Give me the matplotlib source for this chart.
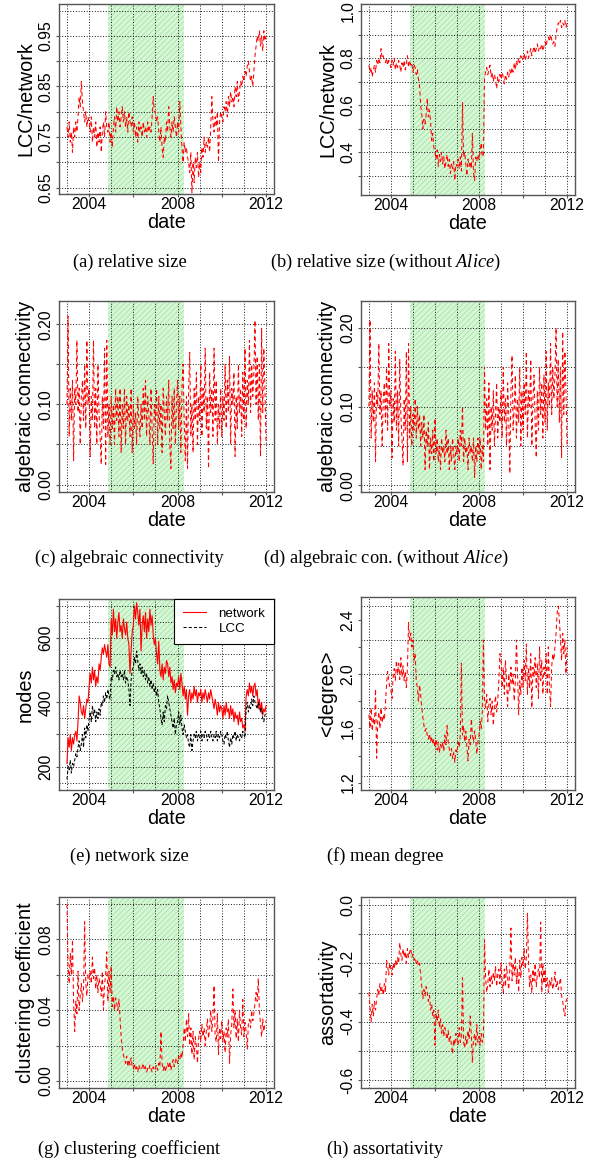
import matplotlib
matplotlib.use('Agg')
import matplotlib.pyplot as plt
import matplotlib.transforms as mtransforms
import numpy as np

plt.rcParams['font.family'] = ['Liberation Sans', 'DejaVu Sans']
plt.rcParams['mathtext.fontset'] = 'custom'
plt.rcParams['mathtext.rm'] = 'Liberation Serif'
plt.rcParams['mathtext.it'] = 'Liberation Serif:italic'
plt.rcParams['hatch.linewidth'] = 0.6

# ---------------- data (20 samples per year, 2003.0 .. 2012.0) ----------------
START, END = 2003.0, 2012.0
PERIOD = (2004.87, 2008.27)

lcc_rel = [
 0.77,0.75,0.78,0.74,0.76,0.72,0.77,0.75,0.78,0.76,0.79,0.83,0.81,0.86,0.82,0.80,0.78,0.80,0.77,0.79,
 0.78,0.76,0.79,0.74,0.77,0.75,0.78,0.73,0.76,0.74,0.77,0.72,0.76,0.78,0.75,0.80,0.77,0.76,0.78,0.74,
 0.76,0.73,0.77,0.79,0.76,0.81,0.78,0.80,0.77,0.79,0.81,0.78,0.80,0.77,0.79,0.76,0.80,0.78,0.77,0.79,
 0.76,0.78,0.75,0.77,0.74,0.78,0.76,0.77,0.75,0.78,0.76,0.77,0.75,0.78,0.76,0.77,0.76,0.79,0.83,0.80,
 0.80,0.78,0.79,0.76,0.74,0.77,0.73,0.71,0.75,0.74,0.78,0.76,0.81,0.77,0.75,0.78,0.76,0.79,0.77,0.75,
 0.78,0.76,0.82,0.77,0.73,0.70,0.74,0.72,0.73,0.71,0.70,0.68,0.72,0.64,0.70,0.66,0.71,0.69,0.72,0.67,
 0.70,0.68,0.73,0.71,0.75,0.72,0.74,0.73,0.75,0.72,0.77,0.83,0.78,0.76,0.79,0.77,0.80,0.70,0.78,0.80,
 0.79,0.78,0.81,0.80,0.82,0.79,0.83,0.81,0.84,0.82,0.83,0.81,0.85,0.83,0.86,0.82,0.84,0.86,0.85,0.87,
 0.86,0.88,0.87,0.89,0.90,0.88,0.86,0.87,0.85,0.88,0.91,0.93,0.95,0.94,0.96,0.93,0.95,0.92,0.96,0.94,
 0.95]

lcc_rel_na = [
 0.77,0.74,0.76,0.72,0.75,0.77,0.74,0.79,0.77,0.80,0.78,0.84,0.80,0.81,0.79,0.78,0.80,0.77,0.79,0.78,
 0.76,0.79,0.77,0.80,0.75,0.78,0.76,0.79,0.77,0.74,0.78,0.76,0.79,0.75,0.78,0.81,0.76,0.79,0.77,0.78,
 0.74,0.77,0.76,0.73,0.75,0.71,0.68,0.60,0.56,0.50,0.54,0.52,0.56,0.63,0.55,0.58,0.53,0.45,0.48,0.42,
 0.40,0.37,0.41,0.34,0.39,0.36,0.40,0.35,0.38,0.33,0.36,0.39,0.34,0.37,0.31,0.35,0.33,0.36,0.28,0.35,
 0.34,0.37,0.33,0.38,0.32,0.61,0.38,0.40,0.35,0.30,0.37,0.34,0.36,0.33,0.48,0.31,0.28,0.38,0.36,0.39,
 0.37,0.40,0.44,0.38,0.39,0.72,0.74,0.76,0.73,0.75,0.77,0.72,0.74,0.70,0.73,0.71,0.67,0.72,0.70,0.73,
 0.71,0.74,0.72,0.69,0.73,0.71,0.74,0.72,0.75,0.73,0.76,0.74,0.78,0.75,0.79,0.77,0.80,0.78,0.81,0.79,
 0.80,0.82,0.79,0.81,0.83,0.80,0.82,0.84,0.81,0.83,0.85,0.82,0.84,0.86,0.83,0.85,0.84,0.86,0.83,0.85,
 0.87,0.85,0.88,0.89,0.87,0.90,0.88,0.86,0.87,0.85,0.90,0.93,0.95,0.94,0.96,0.93,0.95,0.94,0.96,0.93,
 0.95]

alg_conn = [
 0.10,0.21,0.06,0.12,0.08,0.13,0.03,0.12,0.10,0.18,0.09,0.12,0.05,0.11,0.13,0.08,0.15,0.07,0.18,0.10,
 0.12,0.035,0.11,0.08,0.18,0.07,0.12,0.05,0.15,0.09,0.06,0.025,0.11,0.07,0.17,0.025,0.18,0.06,0.10,0.05,
 0.11,0.07,0.10,0.05,0.12,0.08,0.11,0.06,0.12,0.04,0.10,0.07,0.12,0.05,0.11,0.08,0.10,0.06,0.12,0.04,
 0.10,0.07,0.09,0.05,0.11,0.08,0.06,0.10,0.07,0.12,0.08,0.13,0.06,0.11,0.09,0.05,0.12,0.07,0.026,0.10,
 0.08,0.12,0.05,0.11,0.07,0.10,0.04,0.12,0.09,0.06,0.11,0.08,0.13,0.05,0.02,0.11,0.07,0.12,0.05,0.10,
 0.13,0.07,0.11,0.04,0.12,0.15,0.08,0.03,0.11,0.02,0.12,0.165,0.06,0.10,0.04,0.12,0.08,0.14,0.05,0.11,
 0.08,0.15,0.06,0.12,0.09,0.17,0.07,0.11,0.02,0.14,0.09,0.12,0.06,0.17,0.08,0.13,0.05,0.10,0.07,0.12,
 0.06,0.11,0.08,0.15,0.07,0.13,0.09,0.16,0.05,0.12,0.10,0.14,0.035,0.11,0.07,0.15,0.09,0.12,0.06,0.14,
 0.08,0.17,0.07,0.13,0.10,0.18,0.09,0.15,0.11,0.14,0.205,0.10,0.16,0.08,0.15,0.035,0.195,0.09,0.17,0.12,
 0.05]

alg_conn_na = [
 0.10,0.21,0.06,0.12,0.08,0.13,0.03,0.12,0.10,0.18,0.09,0.12,0.05,0.11,0.13,0.08,0.15,0.07,0.18,0.10,
 0.12,0.035,0.11,0.08,0.17,0.07,0.12,0.05,0.16,0.09,0.06,0.025,0.11,0.07,0.17,0.03,0.18,0.06,0.10,0.05,
 0.09,0.07,0.11,0.06,0.10,0.07,0.09,0.05,0.08,0.06,0.09,0.02,0.07,0.05,0.08,0.02,0.06,0.04,0.07,0.03,
 0.085,0.04,0.06,0.03,0.05,0.02,0.06,0.04,0.05,0.03,0.07,0.04,0.06,0.02,0.05,0.03,0.06,0.04,0.02,0.05,
 0.04,0.06,0.03,0.07,0.05,0.10,0.03,0.06,0.04,0.05,0.02,0.06,0.04,0.05,0.03,0.06,0.01,0.05,0.03,0.06,
 0.04,0.06,0.02,0.05,0.03,0.15,0.07,0.11,0.05,0.13,0.02,0.10,0.07,0.12,0.05,0.09,0.13,0.06,0.10,0.08,
 0.12,0.06,0.15,0.08,0.11,0.05,0.13,0.09,0.015,0.12,0.165,0.07,0.10,0.14,0.06,0.11,0.08,0.15,0.05,0.12,
 0.07,0.13,0.09,0.17,0.06,0.12,0.10,0.16,0.05,0.11,0.14,0.08,0.035,0.12,0.07,0.15,0.09,0.13,0.06,0.14,
 0.08,0.17,0.07,0.13,0.10,0.18,0.09,0.15,0.11,0.14,0.20,0.10,0.16,0.08,0.15,0.035,0.195,0.09,0.17,0.12,
 0.05]

nodes_network = [
 210,290,260,300,250,290,270,300,310,280,340,420,400,370,360,390,350,380,410,400,
 450,490,460,510,470,500,450,480,460,520,500,540,570,550,580,560,540,580,520,510,
 660,610,690,620,660,600,650,680,620,640,600,660,630,610,650,600,580,490,560,620,
 640,700,660,710,680,640,690,560,640,670,620,680,600,660,620,690,640,670,610,580,
 600,550,520,590,500,480,520,470,510,490,530,520,480,510,460,480,440,470,430,460,
 450,480,440,490,460,420,450,410,440,360,420,440,400,430,410,450,420,440,400,430,
 420,440,400,430,410,440,420,400,430,410,440,420,400,380,410,390,360,400,370,390,
 380,350,390,360,400,370,380,350,390,360,380,340,370,350,360,330,370,340,350,320,
 330,310,420,440,420,460,430,450,420,450,460,420,440,380,410,370,400,360,380,370,
 390]

nodes_lcc = [
 160,200,190,220,180,210,200,220,240,230,260,280,250,270,300,260,320,290,330,310,
 350,370,340,390,360,380,340,370,350,380,360,400,390,420,400,430,410,440,420,410,
 480,470,500,490,510,480,490,470,500,480,490,470,500,460,480,470,440,390,470,500,
 510,540,520,560,530,500,520,490,510,480,500,470,490,460,480,450,470,440,460,430,
 450,420,440,400,380,350,330,370,340,390,380,420,400,380,360,340,320,350,300,330,
 340,370,330,360,320,300,330,310,290,300,270,260,300,250,280,300,290,310,280,300,
 290,310,280,300,290,310,300,280,300,290,310,290,280,300,290,310,280,300,290,310,
 300,280,270,300,290,310,280,260,290,270,300,290,310,280,300,290,280,300,290,310,
 300,290,380,400,370,390,380,410,390,420,400,390,380,400,390,370,380,350,340,360,
 370]

mean_degree = [
 1.70,1.60,1.75,1.58,1.68,1.62,1.89,1.38,1.65,1.72,1.60,1.75,1.64,1.70,1.66,1.78,1.92,2.02,1.95,1.90,
 1.88,1.82,1.98,2.04,1.95,2.10,2.00,2.08,1.96,2.12,1.98,2.06,1.95,2.02,1.90,2.05,2.38,2.25,2.30,2.20,
 2.25,2.10,2.15,1.95,1.90,1.80,1.92,1.85,1.75,1.68,1.62,1.58,1.60,1.55,1.52,1.56,1.50,1.54,1.48,1.52,
 1.46,1.52,1.44,1.50,1.42,1.48,1.45,1.50,1.43,1.55,1.48,1.62,1.50,1.45,1.40,1.45,1.38,1.42,1.35,1.44,
 1.42,1.50,1.46,1.55,2.08,1.55,1.62,1.50,1.58,1.46,1.36,1.52,1.48,1.67,1.55,1.50,1.58,1.52,1.41,1.50,
 1.55,1.65,1.60,1.72,2.25,1.80,1.75,1.85,1.65,1.78,1.82,1.70,1.80,1.62,1.76,1.84,1.72,1.80,1.95,2.15,
 2.10,1.90,2.05,1.85,2.10,1.95,1.76,2.00,1.88,2.05,1.92,2.00,1.80,1.95,2.25,2.00,1.70,1.95,1.85,2.05,
 1.90,2.10,1.95,2.22,1.85,2.05,1.90,2.15,1.75,2.05,1.98,2.12,1.90,2.08,1.82,2.20,1.95,2.10,1.85,2.05,
 2.00,2.15,1.85,2.20,1.90,1.76,2.05,2.15,2.10,2.20,2.30,2.45,2.50,2.40,2.25,2.10,2.30,2.15,2.25,2.00,
 2.20]

clustering = [
 0.100,0.065,0.055,0.072,0.060,0.080,0.045,0.028,0.045,0.038,0.062,0.040,0.048,0.055,0.045,0.052,0.090,0.055,0.048,0.060,
 0.058,0.062,0.055,0.070,0.058,0.064,0.052,0.060,0.050,0.058,0.055,0.048,0.062,0.040,0.055,0.060,0.073,0.045,0.062,0.050,
 0.065,0.042,0.048,0.040,0.047,0.044,0.040,0.046,0.035,0.025,0.018,0.015,0.012,0.010,0.014,0.008,0.012,0.009,0.013,0.008,
 0.007,0.010,0.006,0.008,0.005,0.009,0.007,0.006,0.008,0.010,0.006,0.008,0.005,0.007,0.006,0.009,0.007,0.005,0.008,0.006,
 0.007,0.009,0.006,0.010,0.008,0.028,0.010,0.006,0.009,0.005,0.008,0.010,0.007,0.011,0.006,0.009,0.012,0.008,0.011,0.013,
 0.010,0.014,0.012,0.016,0.013,0.020,0.030,0.022,0.035,0.025,0.038,0.020,0.030,0.015,0.028,0.012,0.025,0.020,0.010,0.024,
 0.028,0.022,0.032,0.025,0.030,0.020,0.028,0.035,0.024,0.030,0.040,0.028,0.036,0.054,0.025,0.022,0.038,0.015,0.030,0.024,
 0.034,0.022,0.028,0.016,0.030,0.025,0.035,0.010,0.026,0.032,0.052,0.030,0.040,0.024,0.035,0.022,0.040,0.030,0.026,0.046,
 0.025,0.033,0.028,0.018,0.032,0.035,0.030,0.040,0.034,0.038,0.044,0.050,0.045,0.058,0.040,0.032,0.025,0.035,0.028,0.032,
 0.034]

assortativity = [
 -0.30,-0.35,-0.40,-0.34,-0.38,-0.33,-0.36,-0.32,-0.29,-0.31,-0.27,-0.30,-0.28,-0.31,-0.27,-0.30,-0.19,-0.21,-0.24,-0.20,
 -0.22,-0.24,-0.20,-0.22,-0.19,-0.21,-0.18,-0.20,-0.13,-0.17,-0.19,-0.15,-0.18,-0.16,-0.20,-0.15,-0.18,-0.16,-0.15,-0.18,
 -0.17,-0.19,-0.18,-0.20,-0.19,-0.21,-0.20,-0.24,-0.28,-0.32,-0.29,-0.31,-0.28,-0.30,-0.33,-0.31,-0.36,-0.34,-0.38,-0.36,
 -0.48,-0.37,-0.40,-0.36,-0.42,-0.39,-0.44,-0.41,-0.45,-0.42,-0.44,-0.46,-0.43,-0.47,-0.45,-0.48,-0.51,-0.46,-0.48,-0.44,
 -0.46,-0.48,-0.42,-0.47,-0.45,-0.25,-0.47,-0.49,-0.45,-0.48,-0.43,-0.46,-0.38,-0.44,-0.54,-0.46,-0.44,-0.48,-0.41,-0.47,
 -0.45,-0.48,-0.44,-0.47,-0.46,-0.12,-0.25,-0.30,-0.27,-0.22,-0.28,-0.24,-0.27,-0.23,-0.26,-0.21,-0.28,-0.24,-0.22,-0.27,
 -0.20,-0.26,-0.30,-0.22,-0.28,-0.21,-0.25,-0.29,-0.22,-0.08,-0.26,-0.20,-0.24,-0.18,-0.27,-0.22,-0.30,-0.19,-0.25,-0.18,
 -0.21,-0.15,-0.22,-0.18,-0.03,-0.20,-0.28,-0.24,-0.30,-0.22,-0.26,-0.20,-0.28,-0.24,-0.22,-0.25,-0.06,-0.30,-0.20,-0.27,
 -0.22,-0.28,-0.25,-0.30,-0.26,-0.28,-0.25,-0.29,-0.27,-0.23,-0.28,-0.26,-0.29,-0.27,-0.25,-0.31,-0.33,-0.36,-0.38,-0.33,
 -0.32]

# ---------------- layout ----------------
W, H = 616, 1167
fig = plt.figure(figsize=(W / 100, H / 100), dpi=100)

RED = '#ff0000'
GRID_KW = dict(color='#1a1a1a', lw=0.7, ls=(0, (1, 1.8)), zorder=1)
XGRID = list(range(2003, 2013))


def axbox(l, t, r, b):
    return fig.add_axes([l / W, 1 - b / H, (r - l) / W, (b - t) / H])


def panel(box, ylim, ymajor, ylabels, yminor, ygrid, ylabel, lines, legend=False):
    ax = axbox(*box)
    ax.set_xlim(2002.64, 2012.36)
    ax.set_ylim(*ylim)
    ax.axvspan(PERIOD[0], PERIOD[1], facecolor='#d6f6d6', edgecolor='#a3e6a3',
               hatch='//////', linewidth=0, zorder=0)
    for x in XGRID:
        ax.axvline(x, **GRID_KW)
    for y in ygrid:
        ax.axhline(y, **GRID_KW)
    for vals, color, ls, lw, lab in lines:
        dates = np.linspace(START, END, len(vals))
        ax.plot(dates, vals, color=color, ls=ls, lw=lw, label=lab, zorder=3)
    ax.set_xticks([2004, 2006, 2008, 2010, 2012])
    ax.set_xticklabels(['2004', '', '2008', '', '2012'])
    ax.set_yticks(list(ymajor) + list(yminor))
    ax.set_yticklabels(list(ylabels) + [''] * len(yminor))
    ax.tick_params(axis='x', length=2.5, width=0.8, pad=-0.5, labelsize=11.3,
                   color='#555555')
    ax.tick_params(axis='y', length=2.5, width=0.8, pad=1.6, labelsize=11.3,
                   labelrotation=90, color='#555555')
    for lab in ax.get_yticklabels():
        lab.set_va('center')
    for s in ax.spines.values():
        s.set_color('#555555')
        s.set_linewidth(1.0)
    trx = mtransforms.blended_transform_factory(ax.transAxes, fig.transFigure)
    bb = ax.get_position()
    # x axis title "date"
    ax.text(0.5, bb.y0 - 34 / H, 'date', transform=trx, ha='center',
            va='baseline', fontsize=14.3)
    # y axis title
    try_ = mtransforms.blended_transform_factory(fig.transFigure, ax.transAxes)
    ax.text(bb.x0 - 28 / W, 0.5, ylabel, transform=try_, rotation=90,
            rotation_mode='anchor', ha='center', va='baseline', fontsize=14.3)
    if legend:
        leg = ax.legend(loc='upper right', bbox_to_anchor=(1.0, 1.0),
                        borderaxespad=0, fancybox=False, edgecolor='black',
                        fontsize=9.6, handlelength=1.7, borderpad=0.65,
                        labelspacing=0.2, handletextpad=0.95, framealpha=1)
        leg.get_frame().set_linewidth(0.8)
        leg.set_zorder(5)
    return ax


def dash(v):
    return (v, RED, (0, (4, 3)), 0.75, None)


def arange(a, b, s):
    n = int(round((b - a) / s))
    return [round(a + i * s, 6) for i in range(n + 1)]


panel((59, 4, 274, 194), (0.6375, 1.013), [0.65, 0.75, 0.85, 0.95],
      ['0.65', '0.75', '0.85', '0.95'], [0.70, 0.80, 0.90],
      arange(0.65, 1.0, 0.05), 'LCC/network', [dash(lcc_rel)])
panel((361, 4, 575, 195), (0.218, 1.03), [0.4, 0.6, 0.8, 1.0],
      ['0.4', '0.6', '0.8', '1.0'], [0.3, 0.5, 0.7, 0.9],
      arange(0.3, 1.0, 0.1), 'LCC/network', [dash(lcc_rel_na)])
panel((59, 301, 274, 492), (-0.0093, 0.229), [0.0, 0.1, 0.2],
      ['0.00', '0.10', '0.20'], [0.05, 0.15],
      arange(0.0, 0.2, 0.05), 'algebraic connectivity', [dash(alg_conn)])
panel((361, 301, 575, 492), (-0.0085, 0.234), [0.0, 0.1, 0.2],
      ['0.00', '0.10', '0.20'], [0.05, 0.15],
      arange(0.0, 0.2, 0.05), 'algebraic connectivity', [dash(alg_conn_na)])
panel((59, 599, 274, 790), (127, 722), [200, 400, 600],
      ['200', '400', '600'], [300, 500, 700],
      arange(150, 700, 50), 'nodes',
      [(nodes_network, RED, '-', 0.8, 'network'),
       (nodes_lcc, 'black', (0, (3, 2)), 0.75, 'LCC')], legend=True)
panel((361, 597, 575, 790), (1.146, 2.567), [1.2, 1.6, 2.0, 2.4],
      ['1.2', '1.6', '2.0', '2.4'], [1.4, 1.8, 2.2],
      arange(1.25, 2.5, 0.25), '<degree>', [dash(mean_degree)])
panel((59, 897, 274, 1088), (-0.004, 0.104), [0.0, 0.04, 0.08],
      ['0.00', '0.04', '0.08'], [0.02, 0.06, 0.10],
      arange(0.0, 0.10, 0.02), 'clustering coefficient', [dash(clustering)])
panel((361, 897, 575, 1088), (-0.626, 0.026), [-0.6, -0.4, -0.2, 0.0],
      ['-0.6', '-0.4', '-0.2', '0.0'], [-0.5, -0.3, -0.1],
      arange(-0.6, 0.0, 0.1), 'assortativity', [dash(assortativity)])

captions = [
    (129.5, 266.7, '(a) relative size'),
    (385.5, 266.7, r'(b) relative size (without $\mathit{Alice}$)'),
    (129.5, 562.7, '(c) algebraic connectivity'),
    (385.5, 562.7, r'(d) algebraic con. (without $\mathit{Alice}$)'),
    (129.5, 861.0, '(e) network size'),
    (385.5, 861.0, '(f) mean degree'),
    (129.5, 1154.3, '(g) clustering coefficient'),
    (385.5, 1154.3, '(h) assortativity'),
]
for x, y, s in captions:
    fig.text(x / W, 1 - y / H, s, ha='center', va='baseline',
             family='Liberation Serif', fontsize=13.2)

fig.savefig('out.png', dpi=100)
